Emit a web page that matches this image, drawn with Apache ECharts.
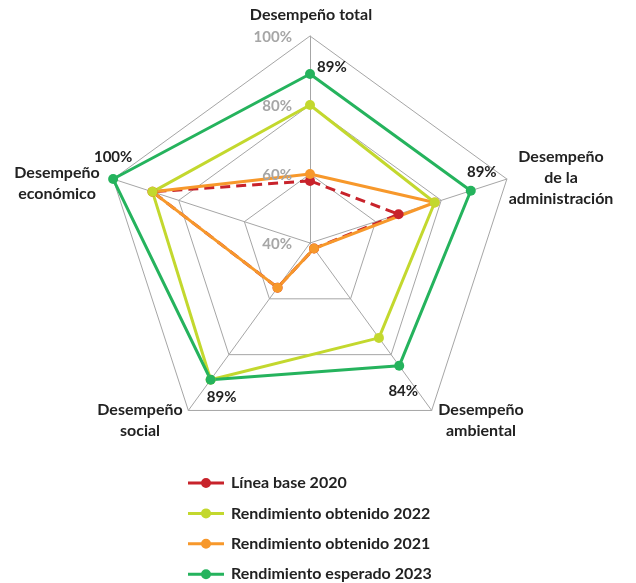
<!DOCTYPE html>
<html><head><meta charset="utf-8">
<script src="https://cdn.jsdelivr.net/npm/echarts@6/dist/echarts.min.js"></script>
<style>html,body{margin:0;padding:0;background:#fff}#c{width:636px;height:583px}</style>
</head><body><div id="c"></div>
<script>
// Axes listed counter-clockwise starting at the top
const axisNames = ['Desempeño total', 'Desempeño\neconómico', 'Desempeño\nsocial', 'Desempeño\nambiental', 'Desempeño\nde la\nadministración'];
const seriesNames = ['Línea base 2020', 'Rendimiento obtenido 2022', 'Rendimiento obtenido 2021', 'Rendimiento esperado 2023'];
const base2020 = [58, 88, 56, 42, 67];
const obt2022 = [80, 88, 89, 74, 78];
const obt2021 = [60, 88, 56, 42, 78];
const esp2023 = [89, 100, 89, 84, 89];
const tickValues = [40, 60, 80, 100];
const tickLabels = ['40%', '60%', '80%', '100%'];

const AX_MIN = 40, AX_MAX = 100;
const CX = 310, CY = 243, R = 207;
const FONT = 'Lato, "Open Sans", sans-serif';
const colors = { base: '#c8232b', y22: '#c3d82e', o21: '#f7982b', g23: '#25b35d' };

// layout helpers (positions only)
const nameBoxes = [[311, 15], [57, 183], [140, 420], [481, 420], [561, 178]];
const valueLabelOffsets = [[7, -7, 'left'], [0, -22, 'center'], [11, 17, 'center'], [4, 25, 'center'], [11, -19, 'center']];
const legendIcon = 'path://M0,3.5H36V6.5H0Z M13,5A5,5 0 1 1 23,5A5,5 0 1 1 13,5Z';

function pointOf(i, v) {
  const ang = (90 + i * 360 / axisNames.length) * Math.PI / 180;
  const r = R * (v - AX_MIN) / (AX_MAX - AX_MIN);
  return [CX + r * Math.cos(ang), CY - r * Math.sin(ang)];
}

const graphics = [];
axisNames.forEach((n, i) => {
  graphics.push({ type: 'text', x: nameBoxes[i][0], y: nameBoxes[i][1], z: 100,
    style: { text: n, align: 'center', verticalAlign: 'middle', fill: '#222', font: 'bold 16px ' + FONT, lineHeight: 21 } });
});
tickValues.forEach((v, k) => {
  const p = pointOf(0, v);
  graphics.push({ type: 'text', x: 292, y: p[1] + 1, z: 100,
    style: { text: tickLabels[k], align: 'right', verticalAlign: 'middle', fill: '#a6a6a6', font: 'bold 15px ' + FONT } });
});
esp2023.forEach((v, i) => {
  const p = pointOf(i, v);
  const o = valueLabelOffsets[i];
  graphics.push({ type: 'text', x: p[0] + o[0], y: p[1] + o[1], z: 100,
    style: { text: v + '%', align: o[2], verticalAlign: 'middle', fill: '#222', font: 'bold 15px ' + FONT } });
});

function mk(name, vals, color, dashed) {
  return {
    type: 'radar', name: name, symbol: 'circle', symbolSize: 10,
    lineStyle: { color: color, width: 3, type: dashed ? [10, 6] : 'solid' },
    itemStyle: { color: color },
    emphasis: { disabled: true },
    data: [{ value: vals, name: name }]
  };
}

const chart = echarts.init(document.getElementById('c'), null, { renderer: 'canvas' });
chart.setOption({
  animation: false,
  backgroundColor: '#fff',
  color: [colors.base, colors.y22, colors.o21, colors.g23],
  radar: {
    center: [CX, CY], radius: R, startAngle: 90, splitNumber: 3, shape: 'polygon',
    indicator: axisNames.map(n => ({ name: n, min: AX_MIN, max: AX_MAX })),
    axisName: { show: false },
    axisLine: { lineStyle: { color: '#a6a6a6', width: 1 } },
    splitLine: { lineStyle: { color: '#a6a6a6', width: 1 } },
    splitArea: { show: false },
    axisTick: { show: false }, axisLabel: { show: false }
  },
  legend: {
    orient: 'vertical', left: 188, top: 475, padding: 0, height: 160,
    itemWidth: 36, itemHeight: 10, itemGap: 14.4,
    icon: legendIcon,
    data: seriesNames,
    textStyle: { color: '#222', fontWeight: 'bold', fontSize: 16, lineHeight: 10, fontFamily: FONT, padding: [0, 0, 0, 2] }
  },
  series: [
    mk(seriesNames[0], base2020, colors.base, true),
    mk(seriesNames[2], obt2021, colors.o21, false),
    mk(seriesNames[1], obt2022, colors.y22, false),
    mk(seriesNames[3], esp2023, colors.g23, false)
  ],
  graphic: graphics
});
</script>
</body></html>
